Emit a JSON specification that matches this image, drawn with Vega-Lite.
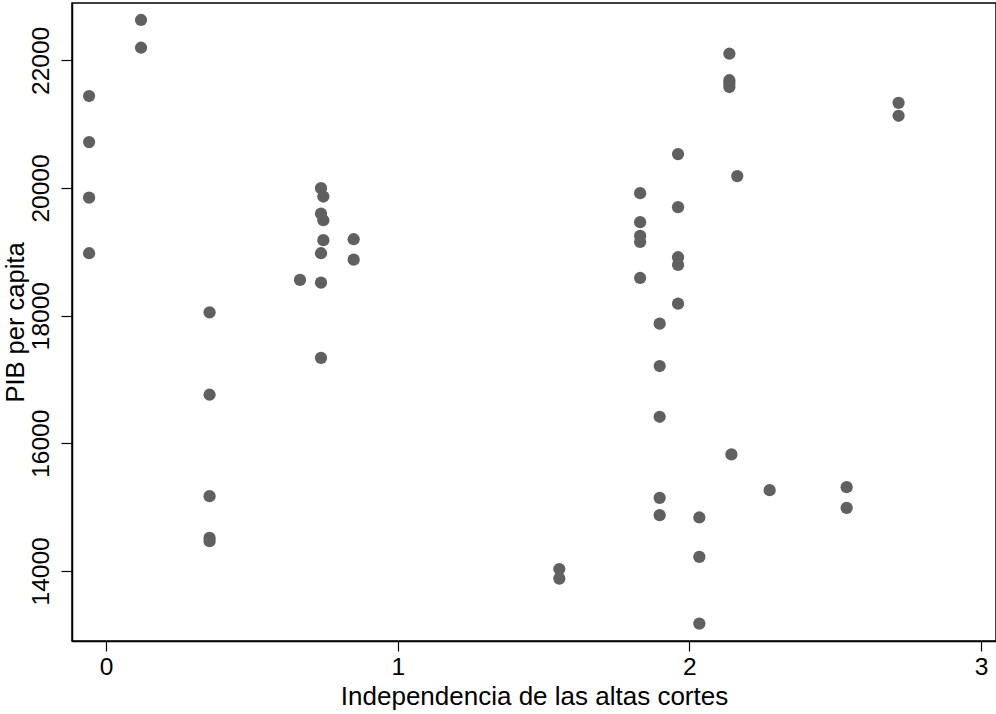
{
  "$schema": "https://vega.github.io/schema/vega-lite/v6.json",
  "width": 924,
  "height": 638,
  "autosize": {"type": "none"},
  "padding": {"left": 72, "top": 3, "right": 0, "bottom": 73},
  "background": "white",
  "config": {
    "view": {"stroke": "black", "strokeWidth": 1.5},
    "font": "Liberation Sans"
  },
  "data": {
    "values": [
      {"ind": -0.058, "pib": 21442},
      {"ind": -0.058, "pib": 20720},
      {"ind": -0.058, "pib": 19851},
      {"ind": -0.058, "pib": 18979},
      {"ind": 0.12, "pib": 22634},
      {"ind": 0.12, "pib": 22199},
      {"ind": 0.355, "pib": 18053},
      {"ind": 0.355, "pib": 16761},
      {"ind": 0.355, "pib": 15172},
      {"ind": 0.355, "pib": 14518},
      {"ind": 0.355, "pib": 14466},
      {"ind": 0.737, "pib": 19998},
      {"ind": 0.745, "pib": 19867},
      {"ind": 0.737, "pib": 19600},
      {"ind": 0.745, "pib": 19496},
      {"ind": 0.745, "pib": 19183},
      {"ind": 0.737, "pib": 18979},
      {"ind": 0.665, "pib": 18560},
      {"ind": 0.737, "pib": 18518},
      {"ind": 0.737, "pib": 17340},
      {"ind": 0.849, "pib": 19198},
      {"ind": 0.849, "pib": 18878},
      {"ind": 1.554, "pib": 14030},
      {"ind": 1.554, "pib": 13880},
      {"ind": 1.831, "pib": 19920},
      {"ind": 1.831, "pib": 19465},
      {"ind": 1.831, "pib": 19250},
      {"ind": 1.831, "pib": 19156},
      {"ind": 1.831, "pib": 18591},
      {"ind": 1.898, "pib": 17875},
      {"ind": 1.898, "pib": 17211},
      {"ind": 1.898, "pib": 16416},
      {"ind": 1.898, "pib": 15145},
      {"ind": 1.898, "pib": 14874},
      {"ind": 1.961, "pib": 20532},
      {"ind": 1.961, "pib": 19700},
      {"ind": 1.961, "pib": 18916},
      {"ind": 1.961, "pib": 18795},
      {"ind": 1.961, "pib": 18188},
      {"ind": 2.034, "pib": 14838},
      {"ind": 2.034, "pib": 14220},
      {"ind": 2.034, "pib": 13175},
      {"ind": 2.137, "pib": 22105},
      {"ind": 2.137, "pib": 21690},
      {"ind": 2.137, "pib": 21640},
      {"ind": 2.137, "pib": 21583},
      {"ind": 2.144, "pib": 15826},
      {"ind": 2.164, "pib": 20187},
      {"ind": 2.275, "pib": 15266},
      {"ind": 2.539, "pib": 15313},
      {"ind": 2.539, "pib": 14988},
      {"ind": 2.717, "pib": 21336},
      {"ind": 2.717, "pib": 21133}
    ]
  },
  "mark": {"type": "circle", "size": 150, "color": "#606060", "opacity": 1},
  "encoding": {
    "x": {
      "field": "ind",
      "type": "quantitative",
      "scale": {"domain": [-0.1166, 3.051], "nice": false, "zero": false},
      "axis": {
        "title": "Independencia de las altas cortes",
        "values": [0, 1, 2, 3],
        "grid": false,
        "domainColor": "black",
        "domainWidth": 1.5,
        "tickColor": "black",
        "tickSize": 10,
        "tickWidth": 1.2,
        "labelFontSize": 24.5,
        "labelColor": "black",
        "labelPadding": 4,
        "titleFontSize": 26,
        "titleFontWeight": "normal",
        "titleColor": "black",
        "titlePadding": 5
      }
    },
    "y": {
      "field": "pib",
      "type": "quantitative",
      "scale": {"domain": [12902, 22900], "nice": false, "zero": false},
      "axis": {
        "title": "PIB per capita",
        "values": [14000, 16000, 18000, 20000, 22000],
        "format": "d",
        "grid": false,
        "domainColor": "black",
        "domainWidth": 1.5,
        "tickColor": "black",
        "tickSize": 11,
        "tickWidth": 1.2,
        "labelFontSize": 24.5,
        "labelColor": "black",
        "labelAngle": -90,
        "labelAlign": "center",
        "labelBaseline": "bottom",
        "labelPadding": 8,
        "titleFontSize": 25.5,
        "titleFontWeight": "normal",
        "titleColor": "black",
        "titlePadding": 0
      }
    }
  }
}
